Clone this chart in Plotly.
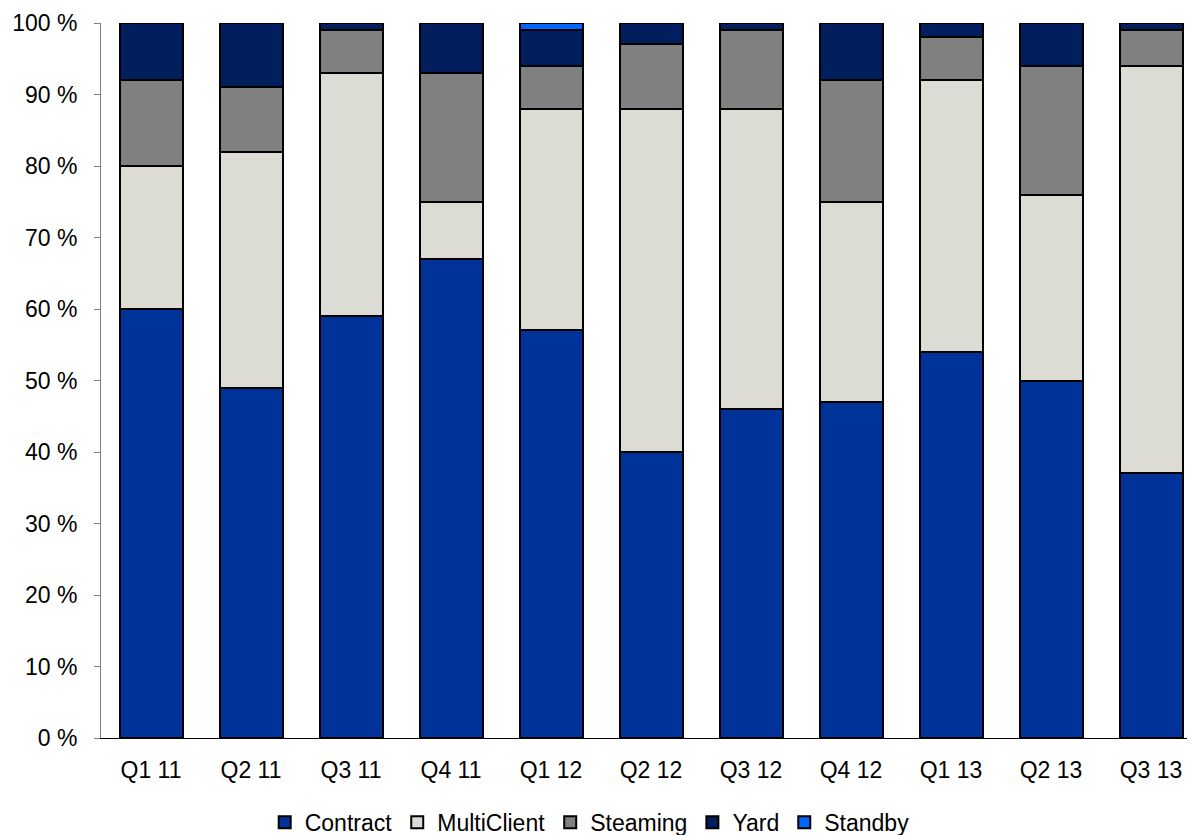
import plotly.graph_objects as go

quarters = ["Q1 11", "Q2 11", "Q3 11", "Q4 11", "Q1 12", "Q2 12",
            "Q3 12", "Q4 12", "Q1 13", "Q2 13", "Q3 13"]

contract = [60, 49, 59, 67, 57, 40, 46, 47, 54, 50, 37]
multiclient = [20, 33, 34, 8, 31, 48, 42, 28, 38, 26, 57]
steaming = [12, 9, 6, 18, 6, 9, 11, 17, 6, 18, 5]
yard = [8, 9, 1, 7, 5, 3, 1, 8, 2, 6, 1]
standby = [0, 0, 0, 0, 1, 0, 0, 0, 0, 0, 0]

series = [
    ("Contract", contract, "#003399"),
    ("MultiClient", multiclient, "#DCDCD4"),
    ("Steaming", steaming, "#808080"),
    ("Yard", yard, "#001F5C"),
    ("Standby", standby, "#0066FF"),
]

font_family = "Liberation Sans, Arial, sans-serif"

fig = go.Figure()
for name, vals, color in series:
    fig.add_trace(go.Bar(
        x=quarters, y=vals, name=name,
        marker=dict(color=color, line=dict(color="#000000", width=2)),
    ))

fig.update_layout(
    barmode="stack",
    bargap=0.37,
    width=1192, height=835,
    margin=dict(l=101, r=5, t=23, b=97, autoexpand=False),
    paper_bgcolor="white", plot_bgcolor="white",
    font=dict(family=font_family, size=23, color="#000000"),
    showlegend=True,
    legend=dict(
        orientation="h", x=0.45, xanchor="center", y=-0.118, yanchor="middle",
        font=dict(size=23), traceorder="normal", itemclick=False,
        itemwidth=30, tracegroupgap=0,
    ),
    xaxis=dict(
        type="category",
        range=[-0.5, 10.36],
        showline=True, linecolor="#000000", linewidth=1,
        ticks="", showgrid=False, zeroline=False,
        tickfont=dict(size=23), ticklabelstandoff=11,
    ),
    yaxis=dict(
        range=[0, 100], dtick=10,
        ticksuffix=" %",
        showline=True, linecolor="#808080", linewidth=1,
        ticks="outside", ticklen=6, tickcolor="#808080",
        showgrid=False, zeroline=False,
        tickfont=dict(size=23), ticklabelstandoff=12,
    ),
)

fig.write_html("out.html")
